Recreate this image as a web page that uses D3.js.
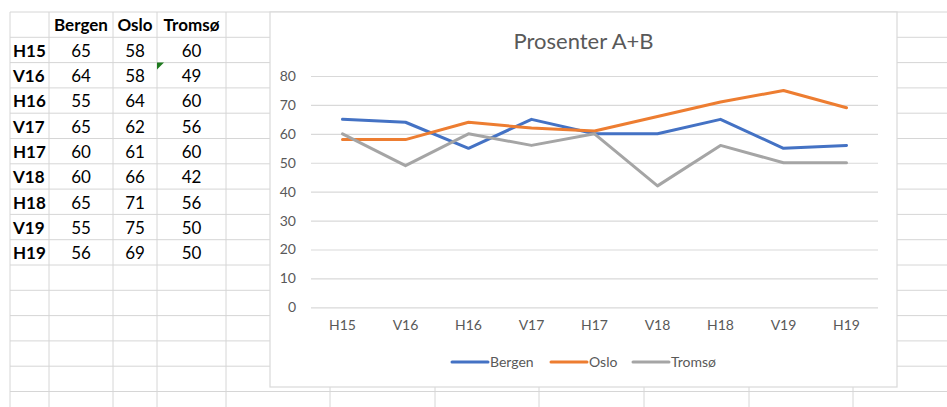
<!DOCTYPE html>
<html>
<head>
<meta charset="utf-8">
<script src="https://cdn.jsdelivr.net/npm/d3@7"></script>
<style>
  body { margin: 0; background: #fff; }
  text { font-family: Lato, "Open Sans", sans-serif; }
</style>
</head>
<body>
<div id="chart"></div>
<script>
// Data
const categories = ['H15', 'V16', 'H16', 'V17', 'H17', 'V18', 'H18', 'V19', 'H19'];
const seriesNames = ['Bergen', 'Oslo', 'Tromsø'];
const bergen = [65, 64, 55, 65, 60, 60, 65, 55, 56];
const oslo = [58, 58, 64, 62, 61, 66, 71, 75, 69];
const tromso = [60, 49, 60, 56, 60, 42, 56, 50, 50];
const yTicks = [0, 10, 20, 30, 40, 50, 60, 70, 80];
const chartTitle = 'Prosenter A+B';

const seriesValues = [bergen, oslo, tromso];
const colors = ['#4472C4', '#ED7D31', '#A5A5A5'];

const W = 947, H = 407;
const svg = d3.select('#chart').append('svg')
    .attr('width', W)
    .attr('height', H);

// Spreadsheet grid
const colEdges = [10, 49, 113, 157, 226, 330, 435, 539, 644, 749, 853, 957];
const rowH = 25.3;
const rowEdges = d3.range(17).map(i => 12 + i * rowH);
const gridColor = '#d6d6d6';

const grid = svg.append('g');
colEdges.forEach(x => {
    grid.append('line')
        .attr('x1', x).attr('x2', x)
        .attr('y1', 12).attr('y2', H)
        .attr('stroke', gridColor);
});
rowEdges.forEach(y => {
    grid.append('line')
        .attr('x1', 10).attr('x2', W)
        .attr('y1', y).attr('y2', y)
        .attr('stroke', gridColor);
});

// Table text
const table = svg.append('g').style('font-size', '17px').attr('fill', '#000');
seriesNames.forEach((name, j) => {
    table.append('text')
        .attr('x', (colEdges[j + 1] + colEdges[j + 2]) / 2)
        .attr('y', rowEdges[0] + 19)
        .attr('text-anchor', 'middle')
        .style('font-weight', 'bold')
        .text(name);
});
categories.forEach((cat, i) => {
    const y = rowEdges[i + 1] + 19.5;
    table.append('text')
        .attr('x', 13)
        .attr('y', y)
        .style('font-weight', 'bold')
        .text(cat);
    seriesValues.forEach((vals, j) => {
        table.append('text')
            .attr('x', (colEdges[j + 1] + colEdges[j + 2]) / 2)
            .attr('y', y)
            .attr('text-anchor', 'middle')
            .text(vals[i]);
    });
});

// little green comment marker (Tromsø, V16)
const tx = colEdges[3], ty = rowEdges[2];
svg.append('path')
    .attr('d', `M${tx},${ty}L${tx + 7},${ty}L${tx},${ty + 7}Z`)
    .attr('fill', '#1f7a1f');

// Chart box
const box = { x: 270, y: 12, w: 627, h: 375 };
svg.append('rect')
    .attr('x', box.x).attr('y', box.y)
    .attr('width', box.w).attr('height', box.h)
    .attr('fill', '#fff')
    .attr('stroke', '#d9d9d9')
    .attr('stroke-width', 1.2);

svg.append('text')
    .attr('x', box.x + box.w / 2)
    .attr('y', 49)
    .attr('text-anchor', 'middle')
    .attr('fill', '#595959')
    .style('font-size', '22px')
    .text(chartTitle);

// Scales
const x = d3.scaleBand()
    .domain(categories)
    .range([311, 878]);

const y = d3.scaleLinear()
    .domain([0, 80])
    .range([307.3, 76]);

// Gridlines + y labels
const yAxis = svg.append('g')
    .attr('transform', 'translate(311,0)')
    .call(d3.axisLeft(y).tickValues(yTicks).tickSize(-567).tickPadding(15));
yAxis.select('.domain').remove();
yAxis.selectAll('.tick line').attr('stroke', '#d9d9d9').attr('stroke-width', 1.2);
yAxis.selectAll('.tick text')
    .attr('fill', '#595959')
    .style('font-size', '14px')
    .style('font-family', 'Lato, sans-serif');

// x labels
const xAxis = svg.append('g')
    .attr('transform', 'translate(0,307.3)')
    .call(d3.axisBottom(x).tickSize(0).tickPadding(13));
xAxis.select('.domain').remove();
xAxis.selectAll('.tick text')
    .attr('fill', '#595959')
    .style('font-size', '14px')
    .style('font-family', 'Lato, sans-serif');

// Lines
const line = d3.line()
    .x((d, i) => x(categories[i]) + x.bandwidth() / 2)
    .y(d => y(d));

seriesValues.forEach((vals, j) => {
    svg.append('path')
        .datum(vals)
        .attr('d', line)
        .attr('fill', 'none')
        .attr('stroke', colors[j])
        .attr('stroke-width', 3)
        .attr('stroke-linejoin', 'round')
        .attr('stroke-linecap', 'round');
});

// Legend
const legendX = [452, 551, 633];
const legend = svg.append('g');
seriesNames.forEach((name, j) => {
    const row = legend.append('g').attr('transform', `translate(${legendX[j]},362)`);
    row.append('line')
        .attr('x1', 0).attr('x2', 36)
        .attr('stroke', colors[j])
        .attr('stroke-width', 3)
        .attr('stroke-linecap', 'round');
    row.append('text')
        .attr('x', 38)
        .attr('y', 5)
        .attr('fill', '#595959')
        .style('font-size', '14px')
        .text(name);
});
</script>
</body>
</html>
